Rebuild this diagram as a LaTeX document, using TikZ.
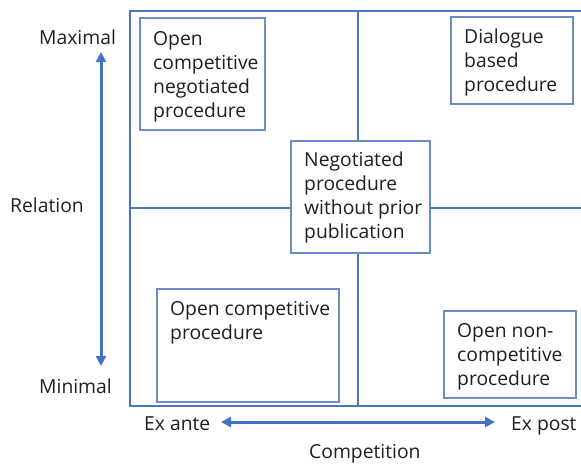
\documentclass[tikz,border=0pt]{standalone}
\usepackage{fontspec}
\setmainfont{Open Sans}
\usetikzlibrary{arrows.meta}
\definecolor{frameblue}{HTML}{4C76BC}
\definecolor{boxblue}{HTML}{6A8DCA}
\definecolor{arrowblue}{HTML}{4472C4}
\begin{document}
\begin{tikzpicture}[x=1pt,y=-1pt,
  every node/.style={font=\fontsize{19.3}{24}\selectfont, text=black!88},
  framel/.style={draw=frameblue, line width=1.6pt},
  pbox/.style={draw=boxblue, line width=1.3pt, fill=white},
  ptext/.style={anchor=base west, inner sep=0pt, align=left},
  lbl/.style={anchor=base west, inner sep=0pt},
  axis/.style={draw=arrowblue, line width=3pt, {Triangle[length=10pt,width=10pt]}-{Triangle[length=10pt,width=10pt]}}]
\useasboundingbox (0,0) rectangle (581,464);
% frame
\coordinate (fTL) at (130,11);
\coordinate (fBL) at (130,406);
\coordinate (fTR) at (581,11);
\coordinate (fBR) at (581,406);
\coordinate (mL) at (130,208);
\coordinate (mR) at (581,208);
\coordinate (mT) at (358,11);
\coordinate (mB) at (358,406);
\draw[framel] (fTR) -- (fTL) -- (fBL) -- (fBR);
\draw[framel] (mL) -- (mR);
\draw[framel] (mT) -- (mB);
% boxes
\path[pbox] (140,18) rectangle (265,130);
\path[pbox] (451,17) rectangle (573,104);
\path[pbox] (291,141) rectangle (430,253);
\path[pbox] (157,289) rectangle (339,402);
\path[pbox] (444,311) rectangle (576,398);
% box texts (base = baseline of last line)
\node[ptext] (t1) at (153,117) {Open\\competitive\\negotiated\\procedure};
\node[ptext] (t2) at (464,91) {Dialogue\\based\\procedure};
\node[ptext] (t3) at (304,238) {Negotiated\\procedure\\without prior\\publication};
\node[ptext] (t4) at (170,339) {Open competitive\\procedure};
\node[ptext] (t5) at (457,385) {Open non-\\competitive\\procedure};
% axis labels
\node[lbl] (max) at (39,44) {Maximal};
\node[lbl] (rel) at (10,212) {Relation};
\node[lbl] (min) at (39,393) {Minimal};
\node[lbl] (exa) at (144,430) {Ex ante};
\node[lbl] (exp) at (511,430) {Ex post};
\node[lbl] (comp) at (309,458) {Competition};
% arrows
\coordinate (vT) at (101,52);
\coordinate (vB) at (101,366);
\coordinate (hL) at (221,422);
\coordinate (hR) at (495,422);
\draw[axis] (vT) -- (vB);
\draw[axis] (hL) -- (hR);
\end{tikzpicture}
\end{document}
